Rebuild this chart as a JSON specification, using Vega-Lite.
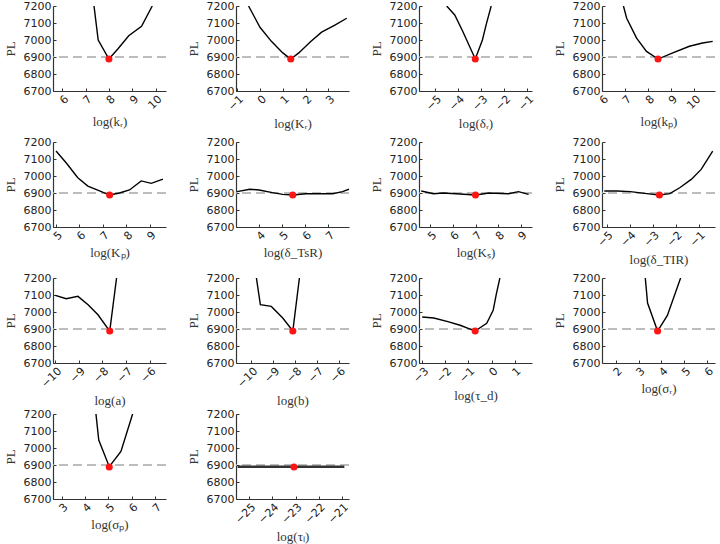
{
"$schema":"https://vega.github.io/schema/vega-lite/v6.json",
"padding":{"left":4,"top":0,"right":0,"bottom":0},
"background":"white",
"columns":4,
"spacing":{"column":70,"row":51},
"bounds":"flush",
"datasets":{
"pl":[
{"p":"kr","x":7.36,"y":7200},{"p":"kr","x":7.54,"y":7000},{"p":"kr","x":8.0,"y":6888},{"p":"kr","x":8.4,"y":6950},{"p":"kr","x":8.85,"y":7025},{"p":"kr","x":9.4,"y":7080},{"p":"kr","x":9.86,"y":7200},
{"p":"Kr","x":-0.5,"y":7200},{"p":"Kr","x":0,"y":7075},{"p":"Kr","x":0.5,"y":6992},{"p":"Kr","x":1.0,"y":6924},{"p":"Kr","x":1.35,"y":6888},{"p":"Kr","x":1.7,"y":6924},{"p":"Kr","x":2.2,"y":6988},{"p":"Kr","x":2.7,"y":7046},{"p":"Kr","x":3.3,"y":7089},{"p":"Kr","x":3.8,"y":7128},
{"p":"dr","x":-4.5,"y":7200},{"p":"dr","x":-4.15,"y":7147},{"p":"dr","x":-3.8,"y":7050},{"p":"dr","x":-3.26,"y":6888},{"p":"dr","x":-2.95,"y":7000},{"p":"dr","x":-2.79,"y":7089},{"p":"dr","x":-2.57,"y":7200},
{"p":"kp","x":6.93,"y":7200},{"p":"kp","x":7.07,"y":7128},{"p":"kp","x":7.5,"y":7011},{"p":"kp","x":7.93,"y":6933},{"p":"kp","x":8.43,"y":6888},{"p":"kp","x":9.07,"y":6924},{"p":"kp","x":9.79,"y":6963},{"p":"kp","x":10.36,"y":6982},{"p":"kp","x":10.8,"y":6992},
{"p":"Kp","x":5,"y":7147},{"p":"Kp","x":5.43,"y":7078},{"p":"Kp","x":5.93,"y":6990},{"p":"Kp","x":6.36,"y":6941},{"p":"Kp","x":6.86,"y":6912},{"p":"Kp","x":7.29,"y":6888},{"p":"Kp","x":7.71,"y":6900},{"p":"Kp","x":8.14,"y":6918},{"p":"Kp","x":8.64,"y":6971},{"p":"Kp","x":9.07,"y":6957},{"p":"Kp","x":9.57,"y":6982},
{"p":"dTsR","x":3.05,"y":6908},{"p":"dTsR","x":3.6,"y":6922},{"p":"dTsR","x":4.0,"y":6918},{"p":"dTsR","x":4.58,"y":6902},{"p":"dTsR","x":5.03,"y":6892},{"p":"dTsR","x":5.46,"y":6888},{"p":"dTsR","x":6.03,"y":6896},{"p":"dTsR","x":6.6,"y":6896},{"p":"dTsR","x":7.19,"y":6896},{"p":"dTsR","x":7.62,"y":6908},{"p":"dTsR","x":7.9,"y":6922},
{"p":"Ks","x":4.6,"y":6912},{"p":"Ks","x":5.14,"y":6896},{"p":"Ks","x":5.57,"y":6900},{"p":"Ks","x":6.14,"y":6896},{"p":"Ks","x":7.0,"y":6888},{"p":"Ks","x":7.6,"y":6900},{"p":"Ks","x":8.46,"y":6896},{"p":"Ks","x":8.9,"y":6908},{"p":"Ks","x":9.35,"y":6892},
{"p":"dTIR","x":-5.1,"y":6912},{"p":"dTIR","x":-4.54,"y":6912},{"p":"dTIR","x":-3.97,"y":6908},{"p":"dTIR","x":-3.26,"y":6896},{"p":"dTIR","x":-2.71,"y":6888},{"p":"dTIR","x":-2.26,"y":6896},{"p":"dTIR","x":-1.83,"y":6931},{"p":"dTIR","x":-1.33,"y":6980},{"p":"dTIR","x":-0.9,"y":7039},{"p":"dTIR","x":-0.4,"y":7147},
{"p":"a","x":-10,"y":7098},{"p":"a","x":-9.54,"y":7078},{"p":"a","x":-9.04,"y":7092},{"p":"a","x":-8.61,"y":7043},{"p":"a","x":-8.19,"y":6984},{"p":"a","x":-7.69,"y":6888},{"p":"a","x":-7.4,"y":7200},
{"p":"b","x":-9.77,"y":7200},{"p":"b","x":-9.59,"y":7043},{"p":"b","x":-9.09,"y":7033},{"p":"b","x":-8.57,"y":6965},{"p":"b","x":-8.11,"y":6888},{"p":"b","x":-7.81,"y":7200},
{"p":"td","x":-3,"y":6971},{"p":"td","x":-2.5,"y":6965},{"p":"td","x":-1.93,"y":6945},{"p":"td","x":-1.36,"y":6922},{"p":"td","x":-0.71,"y":6888},{"p":"td","x":-0.21,"y":6933},{"p":"td","x":0.07,"y":7010},{"p":"td","x":0.21,"y":7108},{"p":"td","x":0.36,"y":7200},
{"p":"sr","x":3.29,"y":7200},{"p":"sr","x":3.39,"y":7053},{"p":"sr","x":3.83,"y":6888},{"p":"sr","x":4.26,"y":6980},{"p":"sr","x":4.84,"y":7200},
{"p":"sp","x":4.47,"y":7200},{"p":"sp","x":4.59,"y":7047},{"p":"sp","x":5.04,"y":6890},{"p":"sp","x":5.54,"y":6980},{"p":"sp","x":6.04,"y":7200},
{"p":"tl","x":-25.5,"y":6890},{"p":"tl","x":-24.5,"y":6890},{"p":"tl","x":-23.07,"y":6890},{"p":"tl","x":-22,"y":6890},{"p":"tl","x":-20.9,"y":6890}
],
"opt":[
{"p":"kr","x":8.0,"y":6888},{"p":"Kr","x":1.35,"y":6888},{"p":"dr","x":-3.26,"y":6888},{"p":"kp","x":8.43,"y":6888},
{"p":"Kp","x":7.29,"y":6888},{"p":"dTsR","x":5.46,"y":6888},{"p":"Ks","x":7.0,"y":6888},{"p":"dTIR","x":-2.71,"y":6888},
{"p":"a","x":-7.69,"y":6888},{"p":"b","x":-8.11,"y":6888},{"p":"td","x":-0.71,"y":6888},{"p":"sr","x":3.83,"y":6888},
{"p":"sp","x":5.04,"y":6888},{"p":"tl","x":-23.07,"y":6888}
]},
"concat":[
{"layer":[
{"data":{"values":[{}]},"mark":{"type":"rule","color":"#a8a8a8","strokeDash":[9,5],"strokeWidth":1.5},"encoding":{"y":{"datum":6900,"type":"quantitative","scale":{"domain":[6700,7200],"nice":false,"zero":false}}}},
{"data":{"name":"pl"},"transform":[{"filter":"datum.p==='kr'"}],"mark":{"type":"line","color":"#000","strokeWidth":1.4,"clip":true},"encoding":{"x":{"field":"x","type":"quantitative","scale":{"domain":[5.6,10.45],"nice":false,"zero":false},"axis":{"values":[6,7,8,9,10],"tickCount":20,"format":"d","labelOverlap":false,"labelFlush":false},"title":"log(kᵣ)"},"y":{"field":"y","type":"quantitative","scale":{"domain":[6700,7200],"nice":false,"zero":false},"axis":{"values":[6700,6800,6900,7000,7100,7200],"tickCount":20,"format":"d","labelOverlap":false,"labelFlush":false},"title":"PL"}}},
{"data":{"name":"opt"},"transform":[{"filter":"datum.p==='kr'"}],"mark":{"type":"circle","color":"#ff1414","size":50,"opacity":1},"encoding":{"x":{"field":"x","type":"quantitative","scale":{"domain":[5.6,10.45],"nice":false,"zero":false}},"y":{"field":"y","type":"quantitative","scale":{"domain":[6700,7200],"nice":false,"zero":false}}}}
]},
{"layer":[
{"data":{"values":[{}]},"mark":{"type":"rule","color":"#a8a8a8","strokeDash":[9,5],"strokeWidth":1.5},"encoding":{"y":{"datum":6900,"type":"quantitative","scale":{"domain":[6700,7200],"nice":false,"zero":false}}}},
{"data":{"name":"pl"},"transform":[{"filter":"datum.p==='Kr'"}],"mark":{"type":"line","color":"#000","strokeWidth":1.4,"clip":true},"encoding":{"x":{"field":"x","type":"quantitative","scale":{"domain":[-1.05,3.9],"nice":false,"zero":false},"axis":{"values":[-1,0,1,2,3],"tickCount":20,"format":"d","labelOverlap":false,"labelFlush":false},"title":"log(Kᵣ)"},"y":{"field":"y","type":"quantitative","scale":{"domain":[6700,7200],"nice":false,"zero":false},"axis":{"values":[6700,6800,6900,7000,7100,7200],"tickCount":20,"format":"d","labelOverlap":false,"labelFlush":false},"title":"PL"}}},
{"data":{"name":"opt"},"transform":[{"filter":"datum.p==='Kr'"}],"mark":{"type":"circle","color":"#ff1414","size":50,"opacity":1},"encoding":{"x":{"field":"x","type":"quantitative","scale":{"domain":[-1.05,3.9],"nice":false,"zero":false}},"y":{"field":"y","type":"quantitative","scale":{"domain":[6700,7200],"nice":false,"zero":false}}}}
]},
{"layer":[
{"data":{"values":[{}]},"mark":{"type":"rule","color":"#a8a8a8","strokeDash":[9,5],"strokeWidth":1.5},"encoding":{"y":{"datum":6900,"type":"quantitative","scale":{"domain":[6700,7200],"nice":false,"zero":false}}}},
{"data":{"name":"pl"},"transform":[{"filter":"datum.p==='dr'"}],"mark":{"type":"line","color":"#000","strokeWidth":1.4,"clip":true},"encoding":{"x":{"field":"x","type":"quantitative","scale":{"domain":[-5.7,-0.8],"nice":false,"zero":false},"axis":{"values":[-5,-4,-3,-2,-1],"tickCount":20,"format":"d","labelOverlap":false,"labelFlush":false},"title":"log(δᵣ)"},"y":{"field":"y","type":"quantitative","scale":{"domain":[6700,7200],"nice":false,"zero":false},"axis":{"values":[6700,6800,6900,7000,7100,7200],"tickCount":20,"format":"d","labelOverlap":false,"labelFlush":false},"title":"PL"}}},
{"data":{"name":"opt"},"transform":[{"filter":"datum.p==='dr'"}],"mark":{"type":"circle","color":"#ff1414","size":50,"opacity":1},"encoding":{"x":{"field":"x","type":"quantitative","scale":{"domain":[-5.7,-0.8],"nice":false,"zero":false}},"y":{"field":"y","type":"quantitative","scale":{"domain":[6700,7200],"nice":false,"zero":false}}}}
]},
{"layer":[
{"data":{"values":[{}]},"mark":{"type":"rule","color":"#a8a8a8","strokeDash":[9,5],"strokeWidth":1.5},"encoding":{"y":{"datum":6900,"type":"quantitative","scale":{"domain":[6700,7200],"nice":false,"zero":false}}}},
{"data":{"name":"pl"},"transform":[{"filter":"datum.p==='kp'"}],"mark":{"type":"line","color":"#000","strokeWidth":1.4,"clip":true},"encoding":{"x":{"field":"x","type":"quantitative","scale":{"domain":[6,10.9],"nice":false,"zero":false},"axis":{"values":[6,7,8,9,10],"tickCount":20,"format":"d","labelOverlap":false,"labelFlush":false},"title":"log(kₚ)"},"y":{"field":"y","type":"quantitative","scale":{"domain":[6700,7200],"nice":false,"zero":false},"axis":{"values":[6700,6800,6900,7000,7100,7200],"tickCount":20,"format":"d","labelOverlap":false,"labelFlush":false},"title":"PL"}}},
{"data":{"name":"opt"},"transform":[{"filter":"datum.p==='kp'"}],"mark":{"type":"circle","color":"#ff1414","size":50,"opacity":1},"encoding":{"x":{"field":"x","type":"quantitative","scale":{"domain":[6,10.9],"nice":false,"zero":false}},"y":{"field":"y","type":"quantitative","scale":{"domain":[6700,7200],"nice":false,"zero":false}}}}
]},
{"layer":[
{"data":{"values":[{}]},"mark":{"type":"rule","color":"#a8a8a8","strokeDash":[9,5],"strokeWidth":1.5},"encoding":{"y":{"datum":6900,"type":"quantitative","scale":{"domain":[6700,7200],"nice":false,"zero":false}}}},
{"data":{"name":"pl"},"transform":[{"filter":"datum.p==='Kp'"}],"mark":{"type":"line","color":"#000","strokeWidth":1.4,"clip":true},"encoding":{"x":{"field":"x","type":"quantitative","scale":{"domain":[4.87,9.7],"nice":false,"zero":false},"axis":{"values":[5,6,7,8,9],"tickCount":20,"format":"d","labelOverlap":false,"labelFlush":false},"title":"log(Kₚ)"},"y":{"field":"y","type":"quantitative","scale":{"domain":[6700,7200],"nice":false,"zero":false},"axis":{"values":[6700,6800,6900,7000,7100,7200],"tickCount":20,"format":"d","labelOverlap":false,"labelFlush":false},"title":"PL"}}},
{"data":{"name":"opt"},"transform":[{"filter":"datum.p==='Kp'"}],"mark":{"type":"circle","color":"#ff1414","size":50,"opacity":1},"encoding":{"x":{"field":"x","type":"quantitative","scale":{"domain":[4.87,9.7],"nice":false,"zero":false}},"y":{"field":"y","type":"quantitative","scale":{"domain":[6700,7200],"nice":false,"zero":false}}}}
]},
{"layer":[
{"data":{"values":[{}]},"mark":{"type":"rule","color":"#a8a8a8","strokeDash":[9,5],"strokeWidth":1.5},"encoding":{"y":{"datum":6900,"type":"quantitative","scale":{"domain":[6700,7200],"nice":false,"zero":false}}}},
{"data":{"name":"pl"},"transform":[{"filter":"datum.p==='dTsR'"}],"mark":{"type":"line","color":"#000","strokeWidth":1.4,"clip":true},"encoding":{"x":{"field":"x","type":"quantitative","scale":{"domain":[3.0,7.9],"nice":false,"zero":false},"axis":{"values":[4,5,6,7],"tickCount":20,"format":"d","labelOverlap":false,"labelFlush":false},"title":"log(δ_TsR)"},"y":{"field":"y","type":"quantitative","scale":{"domain":[6700,7200],"nice":false,"zero":false},"axis":{"values":[6700,6800,6900,7000,7100,7200],"tickCount":20,"format":"d","labelOverlap":false,"labelFlush":false},"title":"PL"}}},
{"data":{"name":"opt"},"transform":[{"filter":"datum.p==='dTsR'"}],"mark":{"type":"circle","color":"#ff1414","size":50,"opacity":1},"encoding":{"x":{"field":"x","type":"quantitative","scale":{"domain":[3.0,7.9],"nice":false,"zero":false}},"y":{"field":"y","type":"quantitative","scale":{"domain":[6700,7200],"nice":false,"zero":false}}}}
]},
{"layer":[
{"data":{"values":[{}]},"mark":{"type":"rule","color":"#a8a8a8","strokeDash":[9,5],"strokeWidth":1.5},"encoding":{"y":{"datum":6900,"type":"quantitative","scale":{"domain":[6700,7200],"nice":false,"zero":false}}}},
{"data":{"name":"pl"},"transform":[{"filter":"datum.p==='Ks'"}],"mark":{"type":"line","color":"#000","strokeWidth":1.4,"clip":true},"encoding":{"x":{"field":"x","type":"quantitative","scale":{"domain":[4.5,9.5],"nice":false,"zero":false},"axis":{"values":[5,6,7,8,9],"tickCount":20,"format":"d","labelOverlap":false,"labelFlush":false},"title":"log(Kₛ)"},"y":{"field":"y","type":"quantitative","scale":{"domain":[6700,7200],"nice":false,"zero":false},"axis":{"values":[6700,6800,6900,7000,7100,7200],"tickCount":20,"format":"d","labelOverlap":false,"labelFlush":false},"title":"PL"}}},
{"data":{"name":"opt"},"transform":[{"filter":"datum.p==='Ks'"}],"mark":{"type":"circle","color":"#ff1414","size":50,"opacity":1},"encoding":{"x":{"field":"x","type":"quantitative","scale":{"domain":[4.5,9.5],"nice":false,"zero":false}},"y":{"field":"y","type":"quantitative","scale":{"domain":[6700,7200],"nice":false,"zero":false}}}}
]},
{"layer":[
{"data":{"values":[{}]},"mark":{"type":"rule","color":"#a8a8a8","strokeDash":[9,5],"strokeWidth":1.5},"encoding":{"y":{"datum":6900,"type":"quantitative","scale":{"domain":[6700,7200],"nice":false,"zero":false}}}},
{"data":{"name":"pl"},"transform":[{"filter":"datum.p==='dTIR'"}],"mark":{"type":"line","color":"#000","strokeWidth":1.4,"clip":true},"encoding":{"x":{"field":"x","type":"quantitative","scale":{"domain":[-5.2,-0.3],"nice":false,"zero":false},"axis":{"values":[-5,-4,-3,-2,-1],"tickCount":20,"format":"d","labelOverlap":false,"labelFlush":false},"title":"log(δ_TIR)"},"y":{"field":"y","type":"quantitative","scale":{"domain":[6700,7200],"nice":false,"zero":false},"axis":{"values":[6700,6800,6900,7000,7100,7200],"tickCount":20,"format":"d","labelOverlap":false,"labelFlush":false},"title":"PL"}}},
{"data":{"name":"opt"},"transform":[{"filter":"datum.p==='dTIR'"}],"mark":{"type":"circle","color":"#ff1414","size":50,"opacity":1},"encoding":{"x":{"field":"x","type":"quantitative","scale":{"domain":[-5.2,-0.3],"nice":false,"zero":false}},"y":{"field":"y","type":"quantitative","scale":{"domain":[6700,7200],"nice":false,"zero":false}}}}
]},
{"layer":[
{"data":{"values":[{}]},"mark":{"type":"rule","color":"#a8a8a8","strokeDash":[9,5],"strokeWidth":1.5},"encoding":{"y":{"datum":6900,"type":"quantitative","scale":{"domain":[6700,7200],"nice":false,"zero":false}}}},
{"data":{"name":"pl"},"transform":[{"filter":"datum.p==='a'"}],"mark":{"type":"line","color":"#000","strokeWidth":1.4,"clip":true},"encoding":{"x":{"field":"x","type":"quantitative","scale":{"domain":[-10.1,-5.3],"nice":false,"zero":false},"axis":{"values":[-10,-9,-8,-7,-6],"tickCount":20,"format":"d","labelOverlap":false,"labelFlush":false},"title":"log(a)"},"y":{"field":"y","type":"quantitative","scale":{"domain":[6700,7200],"nice":false,"zero":false},"axis":{"values":[6700,6800,6900,7000,7100,7200],"tickCount":20,"format":"d","labelOverlap":false,"labelFlush":false},"title":"PL"}}},
{"data":{"name":"opt"},"transform":[{"filter":"datum.p==='a'"}],"mark":{"type":"circle","color":"#ff1414","size":50,"opacity":1},"encoding":{"x":{"field":"x","type":"quantitative","scale":{"domain":[-10.1,-5.3],"nice":false,"zero":false}},"y":{"field":"y","type":"quantitative","scale":{"domain":[6700,7200],"nice":false,"zero":false}}}}
]},
{"layer":[
{"data":{"values":[{}]},"mark":{"type":"rule","color":"#a8a8a8","strokeDash":[9,5],"strokeWidth":1.5},"encoding":{"y":{"datum":6900,"type":"quantitative","scale":{"domain":[6700,7200],"nice":false,"zero":false}}}},
{"data":{"name":"pl"},"transform":[{"filter":"datum.p==='b'"}],"mark":{"type":"line","color":"#000","strokeWidth":1.4,"clip":true},"encoding":{"x":{"field":"x","type":"quantitative","scale":{"domain":[-10.7,-5.55],"nice":false,"zero":false},"axis":{"values":[-10,-9,-8,-7,-6],"tickCount":20,"format":"d","labelOverlap":false,"labelFlush":false},"title":"log(b)"},"y":{"field":"y","type":"quantitative","scale":{"domain":[6700,7200],"nice":false,"zero":false},"axis":{"values":[6700,6800,6900,7000,7100,7200],"tickCount":20,"format":"d","labelOverlap":false,"labelFlush":false},"title":"PL"}}},
{"data":{"name":"opt"},"transform":[{"filter":"datum.p==='b'"}],"mark":{"type":"circle","color":"#ff1414","size":50,"opacity":1},"encoding":{"x":{"field":"x","type":"quantitative","scale":{"domain":[-10.7,-5.55],"nice":false,"zero":false}},"y":{"field":"y","type":"quantitative","scale":{"domain":[6700,7200],"nice":false,"zero":false}}}}
]},
{"layer":[
{"data":{"values":[{}]},"mark":{"type":"rule","color":"#a8a8a8","strokeDash":[9,5],"strokeWidth":1.5},"encoding":{"y":{"datum":6900,"type":"quantitative","scale":{"domain":[6700,7200],"nice":false,"zero":false}}}},
{"data":{"name":"pl"},"transform":[{"filter":"datum.p==='td'"}],"mark":{"type":"line","color":"#000","strokeWidth":1.4,"clip":true},"encoding":{"x":{"field":"x","type":"quantitative","scale":{"domain":[-3.14,1.75],"nice":false,"zero":false},"axis":{"values":[-3,-2,-1,0,1],"tickCount":20,"format":"d","labelOverlap":false,"labelFlush":false},"title":"log(τ_d)"},"y":{"field":"y","type":"quantitative","scale":{"domain":[6700,7200],"nice":false,"zero":false},"axis":{"values":[6700,6800,6900,7000,7100,7200],"tickCount":20,"format":"d","labelOverlap":false,"labelFlush":false},"title":"PL"}}},
{"data":{"name":"opt"},"transform":[{"filter":"datum.p==='td'"}],"mark":{"type":"circle","color":"#ff1414","size":50,"opacity":1},"encoding":{"x":{"field":"x","type":"quantitative","scale":{"domain":[-3.14,1.75],"nice":false,"zero":false}},"y":{"field":"y","type":"quantitative","scale":{"domain":[6700,7200],"nice":false,"zero":false}}}}
]},
{"layer":[
{"data":{"values":[{}]},"mark":{"type":"rule","color":"#a8a8a8","strokeDash":[9,5],"strokeWidth":1.5},"encoding":{"y":{"datum":6900,"type":"quantitative","scale":{"domain":[6700,7200],"nice":false,"zero":false}}}},
{"data":{"name":"pl"},"transform":[{"filter":"datum.p==='sr'"}],"mark":{"type":"line","color":"#000","strokeWidth":1.4,"clip":true},"encoding":{"x":{"field":"x","type":"quantitative","scale":{"domain":[1.39,6.35],"nice":false,"zero":false},"axis":{"values":[2,3,4,5,6],"tickCount":20,"format":"d","labelOverlap":false,"labelFlush":false},"title":"log(σᵣ)"},"y":{"field":"y","type":"quantitative","scale":{"domain":[6700,7200],"nice":false,"zero":false},"axis":{"values":[6700,6800,6900,7000,7100,7200],"tickCount":20,"format":"d","labelOverlap":false,"labelFlush":false},"title":"PL"}}},
{"data":{"name":"opt"},"transform":[{"filter":"datum.p==='sr'"}],"mark":{"type":"circle","color":"#ff1414","size":50,"opacity":1},"encoding":{"x":{"field":"x","type":"quantitative","scale":{"domain":[1.39,6.35],"nice":false,"zero":false}},"y":{"field":"y","type":"quantitative","scale":{"domain":[6700,7200],"nice":false,"zero":false}}}}
]},
{"layer":[
{"data":{"values":[{}]},"mark":{"type":"rule","color":"#a8a8a8","strokeDash":[9,5],"strokeWidth":1.5},"encoding":{"y":{"datum":6900,"type":"quantitative","scale":{"domain":[6700,7200],"nice":false,"zero":false}}}},
{"data":{"name":"pl"},"transform":[{"filter":"datum.p==='sp'"}],"mark":{"type":"line","color":"#000","strokeWidth":1.4,"clip":true},"encoding":{"x":{"field":"x","type":"quantitative","scale":{"domain":[2.63,7.47],"nice":false,"zero":false},"axis":{"values":[3,4,5,6,7],"tickCount":20,"format":"d","labelOverlap":false,"labelFlush":false},"title":"log(σₚ)"},"y":{"field":"y","type":"quantitative","scale":{"domain":[6700,7200],"nice":false,"zero":false},"axis":{"values":[6700,6800,6900,7000,7100,7200],"tickCount":20,"format":"d","labelOverlap":false,"labelFlush":false},"title":"PL"}}},
{"data":{"name":"opt"},"transform":[{"filter":"datum.p==='sp'"}],"mark":{"type":"circle","color":"#ff1414","size":50,"opacity":1},"encoding":{"x":{"field":"x","type":"quantitative","scale":{"domain":[2.63,7.47],"nice":false,"zero":false}},"y":{"field":"y","type":"quantitative","scale":{"domain":[6700,7200],"nice":false,"zero":false}}}}
]},
{"layer":[
{"data":{"values":[{}]},"mark":{"type":"rule","color":"#a8a8a8","strokeDash":[9,5],"strokeWidth":1.5},"encoding":{"y":{"datum":6900,"type":"quantitative","scale":{"domain":[6700,7200],"nice":false,"zero":false}}}},
{"data":{"name":"pl"},"transform":[{"filter":"datum.p==='tl'"}],"mark":{"type":"line","color":"#333","strokeWidth":2.6,"clip":true},"encoding":{"x":{"field":"x","type":"quantitative","scale":{"domain":[-25.57,-20.7],"nice":false,"zero":false},"axis":{"values":[-25,-24,-23,-22,-21],"tickCount":20,"format":"d","labelOverlap":false,"labelFlush":false},"title":"log(τₗ)"},"y":{"field":"y","type":"quantitative","scale":{"domain":[6700,7200],"nice":false,"zero":false},"axis":{"values":[6700,6800,6900,7000,7100,7200],"tickCount":20,"format":"d","labelOverlap":false,"labelFlush":false},"title":"PL"}}},
{"data":{"name":"opt"},"transform":[{"filter":"datum.p==='tl'"}],"mark":{"type":"circle","color":"#ff1414","size":50,"opacity":1},"encoding":{"x":{"field":"x","type":"quantitative","scale":{"domain":[-25.57,-20.7],"nice":false,"zero":false}},"y":{"field":"y","type":"quantitative","scale":{"domain":[6700,7200],"nice":false,"zero":false}}}}
]}
],
"config":{
"view":{"stroke":null,"continuousWidth":113,"continuousHeight":85},
"axis":{"grid":false,"domainColor":"#333","domainWidth":1.2,"tickColor":"#333","tickSize":-3,"labelFont":"DejaVu Sans","labelFontSize":11,"labelColor":"#222","titleFont":"Liberation Serif","titleFontSize":13,"titleFontWeight":"normal","titleColor":"#333","labelPadding":5,"labelBound":false,"labelOverlap":false},
"axisX":{"labelAngle":-45,"titlePadding":5},
"axisY":{"titlePadding":6}
}
}
